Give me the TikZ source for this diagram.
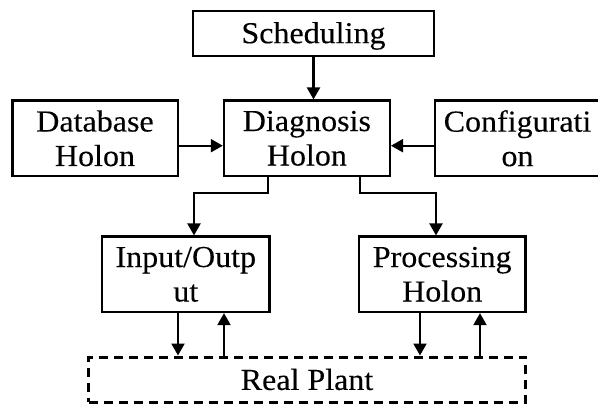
\documentclass[tikz,border=0pt]{standalone}
\usepackage{fontspec}
\setmainfont{Liberation Serif}[FakeStretch=1.05,FakeBold=0.2]
\usetikzlibrary{arrows.meta}
\begin{document}
\begin{tikzpicture}[x=1pt,y=-1pt,
  box/.style={draw, line width=2.4pt, inner sep=0pt, align=center,
    font=\fontsize{30.5}{34.5}\selectfont},
  arr/.style={line width=2.1pt, -{Triangle[length=12pt,width=13pt]}},
  plantbox/.style={box, line width=3pt, dash pattern=on 9pt off 6pt}]
\useasboundingbox (0,0) rectangle (598,405);
\clip (0,0) rectangle (598,405);
\node[box, minimum width=241pt, minimum height=45pt, text height=21pt, text depth=1pt] (sched) at (313.5,33.2) {Scheduling};
\node[box, minimum width=165.4pt, minimum height=75.3pt] (db) at (95,138.3) {Database\\Holon};
\node[box, minimum width=165.8pt, minimum height=75.3pt] (diag) at (306.9,138.3) {Diagnosis\\Holon};
\node[box, minimum width=165pt, minimum height=75.3pt] (conf) at (517.5,138.3) {Configurati\\on};
\node[box, minimum width=167.6pt, minimum height=75.3pt] (io) at (185.8,274.3) {Input/Outp\\ut};
\node[box, minimum width=166.5pt, minimum height=75.3pt] (proc) at (442.2,274.3) {Processing\\Holon};
\node[plantbox, minimum width=437pt, minimum height=45pt] (plant) at (307,379.5) {Real Plant};
% top arrows
\draw[arr] (sched.south) -- (sched.south |- diag.north);
\draw[arr] ([yshift=-7.4pt]db.east) -- ([yshift=-7.4pt]diag.west);
\draw[arr] ([yshift=-7.4pt]conf.west) -- ([yshift=-7.4pt]diag.east);
% diagnosis to lower boxes
\draw[arr] ([xshift=45.6pt]diag.south west) -- ++(0,15.7) -| ([xshift=8.2pt]io.north);
\draw[arr] ([xshift=-30.8pt]diag.south east) -- ++(0,15.7) -| ([xshift=-6.2pt]proc.north);
% bottom arrows
\coordinate (iod) at ([xshift=-7.8pt]io.south);
\coordinate (iou) at ([xshift=38.2pt]io.south);
\coordinate (prd) at ([xshift=-22.2pt]proc.south);
\coordinate (pru) at ([xshift=37.8pt]proc.south);
\draw[arr] (iod) -- (iod |- plant.north);
\draw[arr] (iou |- plant.north) -- (iou);
\draw[arr] (prd) -- (prd |- plant.north);
\draw[arr] (pru |- plant.north) -- (pru);
\end{tikzpicture}
\end{document}
